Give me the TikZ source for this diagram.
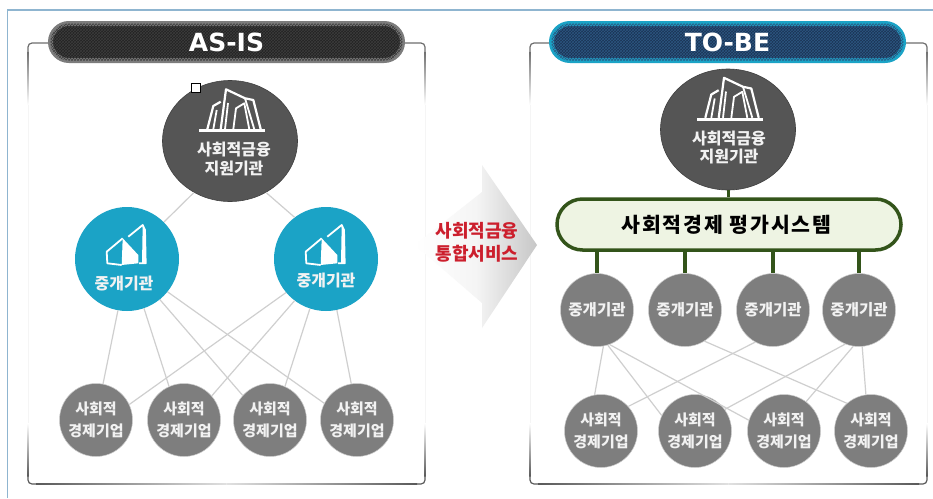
\documentclass[tikz,border=0pt]{standalone}
\usepackage{fontspec}
\usetikzlibrary{shapes.geometric,shapes.misc,patterns}
\newfontfamily\krf{Noto Sans CJK KR}
\newfontfamily\djf{DejaVu Sans}
\definecolor{outerblue}{HTML}{8FB5D0}
\definecolor{framegray}{HTML}{6E6E6E}
\definecolor{topfill}{HTML}{555555}
\definecolor{teal}{HTML}{1BA3C6}
\definecolor{nodegray}{HTML}{7E7E7E}
\definecolor{linkgray}{HTML}{CFCFCF}
\definecolor{sysgreen}{HTML}{33541A}
\definecolor{syspale}{HTML}{EEF4E3}
\definecolor{txtred}{HTML}{CC1F2D}
\definecolor{navy}{HTML}{1A3355}
\definecolor{navyhatch}{HTML}{2C5680}
\definecolor{pillgray}{HTML}{7C7C7C}
\definecolor{coal}{HTML}{222222}
\definecolor{coalhatch}{HTML}{3C3C3C}
\tikzset{
  topnode/.style={ellipse,minimum width=135pt,minimum height=121pt,inner sep=0pt,fill=topfill,draw=black!75,line width=.6pt},
  midnode/.style={circle,minimum size=104pt,inner sep=0pt,fill=teal},
  graynode/.style={circle,minimum size=73pt,inner sep=0pt,fill=nodegray,draw=gray!40,line width=.5pt},
  pilltitle/.style={rounded rectangle,minimum width=352pt,minimum height=37pt,inner sep=0pt,line width=5pt,text=white,font=\djf\bfseries\fontsize{25}{28}\selectfont},
  txtw/.style={text=white!95!black,align=center,font=\krf\bfseries\fontsize{16}{18.5}\selectfont},
  txts/.style={text=white!95!black,align=center,font=\krf\bfseries\fontsize{15}{22.5}\selectfont},
  txtm/.style={text=white!95!black,align=center,font=\krf\bfseries\fontsize{15.5}{18}\selectfont},
  lnk/.style={draw=linkgray,line width=1.2pt},
  post/.style={draw=sysgreen,line width=3.5pt},
  iconline/.style={draw=white,line width=1.8pt,line join=round},
  towerpic/.pic={
    \draw[iconline,line width=3pt] (-30.7,-10.3)--(35,-10.3);
    \draw[iconline,line width=2.2pt] (-22.7,-11.7)--(-16.7,-35)--(-9.3,-39.3);
    \draw[iconline] (-16.7,-11.7)--(-13.3,-31);
    \draw[iconline,line width=2.2pt] (-9.3,-11.7)--(-4,-51.7)--(15,-42.7)--(23.3,-41)--(30.7,-11.7);
    \draw[iconline] (-5,-11.7)--(-2,-38);
    \draw[iconline] (3.3,-11.7)--(6,-32.7)--(14.3,-37.7)--(19.3,-11.7);
    \draw[iconline] (15,-42.7)--(24.3,-11.7);
  },
  halfpic/.pic={
    \fill[white] (-4.3,-20.7)--(11.3,-4)--(11.3,4.3)--(-5.3,6)--cycle;
    \draw[iconline,line width=1.8pt] (-4.3,-20.7)--(-20.3,-7.3)--(-19.7,4.3)--(-5.3,6);
    \draw[iconline,line width=1.8pt] (1.3,-22.3)--(15.7,-34)--(18,-29)--(18.7,4.3)--(12,4.3);
    \fill[white] (15.7,-34)--(18,-29)--(18.7,4.3)--(15,4.3)--cycle;
  },
  panelframe/.pic={
    % drawn from the panel's top-left corner, size 397 x 441
    \draw[framegray,line width=1.2pt,rounded corners=4pt] (25,0)--(0,0)--(0,8);
    \draw[framegray,line width=1.2pt,rounded corners=4pt] (372,0)--(397,0)--(397,8);
    \shade[top color=framegray,bottom color=white] (-.6,8) rectangle (.6,62);
    \shade[top color=framegray,bottom color=white] (396.4,8) rectangle (397.6,62);
    \fill[black!4] (-.4,62) rectangle (.4,380);
    \fill[black!4] (396.6,62) rectangle (397.4,380);
    \shade[top color=white,bottom color=black!65] (-.6,380) rectangle (.6,433);
    \shade[top color=white,bottom color=black!65] (396.4,380) rectangle (397.6,433);
    \draw[black!65,line width=1.2pt,rounded corners=4pt] (0,433)--(0,441)--(8,441);
    \draw[black!65,line width=1.2pt,rounded corners=4pt] (397,433)--(397,441)--(389,441);
    \shade[left color=black!65,right color=black!12] (8,440.4) rectangle (198.5,441.6);
    \shade[left color=black!12,right color=black!65] (198.5,440.4) rectangle (389,441.6);
  }
}
\begin{document}
\begin{tikzpicture}[x=1pt,y=-1pt]
\useasboundingbox (0,0) rectangle (933,498);
\fill[white] (0,0) rectangle (933,498);
\draw[outerblue,line width=1.5pt] (7.5,498)--(7.5,10)--(933,10);

% panels
\pic at (28,43) {panelframe};
\pic at (530,43) {panelframe};

% titles
\node[pilltitle,draw=pillgray,fill=coal,postaction={pattern=crosshatch,pattern color=coalhatch}] (asis) at (226.5,42) {AS-IS};
\node[pilltitle,draw=teal,fill=navy,postaction={pattern=crosshatch,pattern color=navyhatch}] (tobe) at (727.5,42) {TO-BE};

% AS-IS nodes
\node[topnode] (t1) at (230,141) {};
\node[midnode] (l1) at (127,259) {};
\node[midnode] (l2) at (326,259) {};
\node[graynode,txts] (a1) at (96,420) {사회적\\경제기업};
\node[graynode,txts] (a2) at (184,420) {사회적\\경제기업};
\node[graynode,txts] (a3) at (270,420) {사회적\\경제기업};
\node[graynode,txts] (a4) at (357,420) {사회적\\경제기업};
\pic at (t1.center) {towerpic};
\pic at (l1.center) {halfpic};
\pic at (l2.center) {halfpic};
\node[txtw,inner sep=0pt] (t1t) at (234,159) {사회적금융\\지원기관};
\node[txtw,inner sep=0pt] (l1t) at (124,284) {중개기관};
\node[txtw,inner sep=0pt] (l2t) at (326,281) {중개기관};

% AS-IS links
\draw[lnk] (t1.-125)--(l1.45);
\draw[lnk] (t1.-55)--(l2.127);
\draw[lnk] (l1.-100)--(a1.79);
\draw[lnk] (l1.-71)--(a2.114);
\draw[lnk] (l1.-51)--(a3.138);
\draw[lnk] (l1.-39)--(a4.153);
\draw[lnk] (l2.-140)--(a1.25);
\draw[lnk] (l2.-127)--(a2.41);
\draw[lnk] (l2.-108)--(a3.66);
\draw[lnk] (l2.-78)--(a4.99);

% arrow
\shade[left color=white,right color=black!22,middle color=black!4] (415,245)--(482,192)--(482,165)--(537,245)--(482,328)--(482,303)--cycle;
\node[text=txtred,align=center,inner sep=0pt,font=\krf\bfseries\fontsize{18}{23}\selectfont] (svc) at (477,242.5) {사회적금융\\통합서비스};

% TO-BE nodes
\node[topnode] (t2) at (728,129.5) {};
\pic at (t2.center) {towerpic};
\node[txtw,inner sep=0pt] (t2t) at (729,147.5) {사회적금융\\지원기관};
\node[rounded rectangle,minimum width=344pt,minimum height=51pt,inner sep=0pt,draw=sysgreen,fill=syspale,line width=3.5pt,font=\krf\bfseries\fontsize{20.5}{22}\selectfont\addfontfeature{LetterSpace=9}] (sys) at (729,224.5) {\hspace*{-5pt}사회적경제 평가시스템};
\node[graynode,txtm] (m1) at (597,310) {중개기관};
\node[graynode,txtm] (m2) at (685,310) {중개기관};
\node[graynode,txtm] (m3) at (773,310) {중개기관};
\node[graynode,txtm] (m4) at (859,310) {중개기관};
\node[graynode,txts] (b1) at (601,431) {사회적\\경제기업};
\node[graynode,txts] (b2) at (695,431) {사회적\\경제기업};
\node[graynode,txts] (b3) at (784,431) {사회적\\경제기업};
\node[graynode,txts] (b4) at (871,431) {사회적\\경제기업};

% TO-BE links
\draw[post,line width=3pt] (t2.south)--(sys.north -| t2.south);
\draw[post] (m1.north |- sys.south)--(m1.north);
\draw[post] (m2.north |- sys.south)--(m2.north);
\draw[post] (m3.north |- sys.south)--(m3.north);
\draw[post] (m4.north |- sys.south)--(m4.north);
\draw[lnk] (m1.-80)--(b1.100);
\draw[lnk] (m1.-73)--(b2.155);
\draw[lnk] (m1.-70)--(b3.163);
\draw[lnk] (m2.-58)--(b4.131);
\draw[lnk] (m3.-119)--(b1.42);
\draw[lnk] (m4.-112)--(b2.36);
\draw[lnk] (m4.-99)--(b3.53);
\draw[lnk] (m4.-85)--(b4.98);

% selection handle
\node[rectangle,draw=black,fill=white,line width=1pt,minimum size=9pt,inner sep=0pt] (handle) at (196,88) {};
\end{tikzpicture}
\end{document}
